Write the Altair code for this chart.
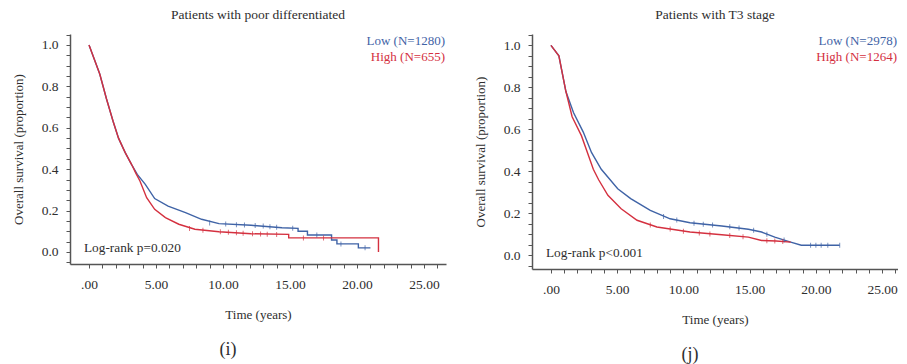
import altair as alt
import pandas as pd

# ---------------- Panel (i): Patients with poor differentiated ----------------
i_low_t = [0, 0.4, 0.8, 1.3, 1.8, 2.2, 2.7, 3.2, 3.6, 4.2, 4.9, 5.9, 7.2, 8.4, 9.7, 12.1, 14.4,
           15.6, 15.6, 16.3, 16.3, 18.1, 18.1, 18.5, 18.5, 20.1, 20.1, 21.0]
i_low_s = [1.0, 0.93, 0.86, 0.74, 0.63, 0.55, 0.48, 0.42, 0.375, 0.327, 0.258, 0.222, 0.19, 0.158, 0.137, 0.129, 0.117,
           0.114, 0.10, 0.10, 0.082, 0.082, 0.058, 0.058, 0.039, 0.039, 0.02, 0.02]
i_high_t = [0, 0.4, 0.8, 1.3, 1.8, 2.2, 2.7, 3.2, 3.5, 3.8, 4.3, 4.9, 5.7, 6.7, 7.9, 9.7, 12.1, 14.9,
            14.9, 21.6, 21.6]
i_high_s = [1.0, 0.93, 0.86, 0.74, 0.63, 0.55, 0.48, 0.42, 0.38, 0.343, 0.262, 0.206, 0.166, 0.134, 0.11, 0.098, 0.088, 0.085,
            0.068, 0.068, 0.0]
i_low_cens_t = [9.0, 10.2, 11.0, 11.6, 12.4, 13.0, 13.5, 14.0, 15.2, 17.0, 18.8, 20.6]
i_low_cens_s = [0.14, 0.135, 0.132, 0.13, 0.128, 0.125, 0.122, 0.119, 0.115, 0.082, 0.039, 0.02]
i_high_cens_t = [7.5, 8.5, 9.8, 10.4, 11.0, 11.5, 12.2, 12.8, 13.3, 14.0, 16.0, 17.5]
i_high_cens_s = [0.114, 0.105, 0.098, 0.095, 0.093, 0.091, 0.088, 0.087, 0.086, 0.085, 0.068, 0.068]

# ---------------- Panel (j): Patients with T3 stage ----------------
j_low_t = [0, 0.6, 1.13, 1.7, 2.44, 3.06, 3.8, 5.04, 6.02, 7.5, 9.0, 10.5, 12.9, 14.9, 15.9, 16.9, 18.1, 18.9, 21.8]
j_low_s = [1.0, 0.95, 0.78, 0.68, 0.587, 0.49, 0.41, 0.317, 0.27, 0.214, 0.174, 0.155, 0.14, 0.124, 0.111, 0.087, 0.063, 0.048, 0.048]
j_high_t = [0, 0.6, 1.13, 1.6, 2.3, 3.2, 3.6, 4.3, 5.3, 6.5, 8.0, 10.5, 12.9, 14.9, 15.9, 17.0, 18.1]
j_high_s = [1.0, 0.95, 0.78, 0.66, 0.57, 0.41, 0.36, 0.286, 0.222, 0.167, 0.135, 0.111, 0.098, 0.087, 0.071, 0.068, 0.063]
j_low_cens_t = [8.5, 9.5, 10.8, 11.5, 12.2, 13.5, 14.2, 15.3, 16.3, 17.6, 19.6, 20.0, 20.4, 20.9, 21.8]
j_low_cens_s = [0.185, 0.168, 0.153, 0.148, 0.144, 0.136, 0.13, 0.12, 0.1, 0.073, 0.048, 0.048, 0.048, 0.048, 0.048]
j_high_cens_t = [7.5, 9.0, 10.0, 11.2, 12.0, 13.5, 14.5, 16.3, 16.9, 17.5]
j_high_cens_s = [0.145, 0.125, 0.115, 0.106, 0.102, 0.095, 0.089, 0.07, 0.068, 0.066]

x_ticks = list(range(0, 27))
y_ticks = [round(-0.05 + 0.05 * k, 2) for k in range(23)]

FONT = "Liberation Serif"
BLUE = "#3f63a6"
RED = "#d4303f"
TXT = "#2e2e2e"


def panel(low_t, low_s, high_t, high_s, lct, lcs, hct, hcs, xdom, ydom, w, h,
          title, low_lab, high_lab, pval, tag):
    lines = pd.concat([
        pd.DataFrame({"t": low_t, "s": low_s, "g": "Low", "o": range(len(low_t))}),
        pd.DataFrame({"t": high_t, "s": high_s, "g": "High", "o": range(len(high_t))}),
    ])
    cens = pd.concat([
        pd.DataFrame({"t": lct, "s": lcs, "g": "Low"}),
        pd.DataFrame({"t": hct, "s": hcs, "g": "High"}),
    ])
    xenc = alt.X("t:Q", scale=alt.Scale(domain=xdom, nice=False, zero=False),
                 axis=alt.Axis(values=x_ticks, tickCount=200, title="Time (years)", titleX=w / 2, titleY=50,
                               titleBaseline="middle", titleAlign="center", labelOverlap=False,
                               labelFlush=False,
                               labelExpr="datum.value % 5 === 0 ? (datum.value === 0 ? '.00' : format(datum.value, '.2f')) : ''",
                               labelPadding=9))
    yenc = alt.Y("s:Q", scale=alt.Scale(domain=ydom, nice=False, zero=False),
                 axis=alt.Axis(values=y_ticks, tickCount=200, title="Overall survival (proportion)",
                               titleX=-52, titleY=h / 2, titleAngle=270, titleBaseline="middle",
                               titleAlign="center", labelOverlap=False, labelFlush=False,
                               labelExpr="(round(datum.value * 100) % 20 === 0 && datum.value >= 0) ? format(datum.value, '.1f') : ''",
                               labelPadding=8))
    col = alt.Color("g:N", scale=alt.Scale(domain=["Low", "High"], range=[BLUE, RED]), legend=None)
    line = alt.Chart(lines).mark_line(strokeWidth=1.4, clip=True).encode(
        x=xenc, y=yenc, color=col, order="o:Q", detail="g:N")
    ticks = alt.Chart(cens).mark_tick(orient="vertical", size=5, thickness=1).encode(
        x="t:Q", y="s:Q", color=col)
    ann = pd.DataFrame({"label": [title]})
    ttl = alt.Chart(ann).mark_text(font=FONT, fontSize=13.5, color=TXT, align="center",
                                   baseline="middle").encode(
        text="label:N", x=alt.value(w / 2), y=alt.value(-19))
    leg_low = alt.Chart(pd.DataFrame({"label": [low_lab]})).mark_text(
        font=FONT, fontSize=13, color=BLUE, align="right", baseline="middle").encode(
        text="label:N", x=alt.value(w - 1), y=alt.value(7))
    leg_high = alt.Chart(pd.DataFrame({"label": [high_lab]})).mark_text(
        font=FONT, fontSize=13, color=RED, align="right", baseline="middle").encode(
        text="label:N", x=alt.value(w - 1), y=alt.value(23))
    pv = alt.Chart(pd.DataFrame({"label": [pval]})).mark_text(
        font=FONT, fontSize=13.3, color=TXT, align="left", baseline="middle").encode(
        text="label:N", x=alt.value(14), y=alt.value(h - 16))
    tg = alt.Chart(pd.DataFrame({"label": [tag]})).mark_text(
        font=FONT, fontSize=18, color=TXT, align="center", baseline="middle").encode(
        text="label:N", x=alt.value(158), y=alt.value(h + 86))
    return alt.layer(line, ticks, ttl, leg_low, leg_high, pv, tg).properties(width=w, height=h)


left = panel(i_low_t, i_low_s, i_high_t, i_high_s, i_low_cens_t, i_low_cens_s,
             i_high_cens_t, i_high_cens_s, [-1.42, 26.64], [-0.058, 1.053], 376, 230,
             "Patients with poor differentiated", "Low (N=1280)", "High (N=655)",
             "Log-rank p=0.020", "(i)")
right = panel(j_low_t, j_low_s, j_high_t, j_high_s, j_low_cens_t, j_low_cens_s,
              j_high_cens_t, j_high_cens_s, [-1.43, 26.2], [-0.065, 1.054], 366, 235,
              "Patients with T3 stage", "Low (N=2978)", "High (N=1264)",
              "Log-rank p<0.001", "(j)")

chart = alt.hconcat(left, right, spacing=86, bounds="flush").properties(
    padding={"left": 4, "top": 0, "right": 0, "bottom": 0}
).configure_view(stroke=None).configure_axis(
    grid=False, domainColor="#555555", domainWidth=1.5, tickColor="#555555", tickSize=4,
    tickWidth=1, labelFont=FONT, labelFontSize=13.5, labelColor=TXT, titleFont=FONT, titleFontSize=13,
    titleColor=TXT, titleFontWeight="normal"
)

chart.save("out.html", embed_options={"renderer": "svg", "actions": False})
